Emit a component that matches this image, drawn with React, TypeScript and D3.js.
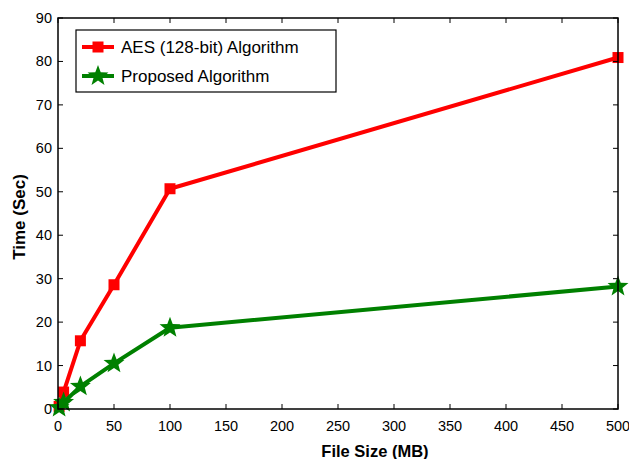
import React from "react";
import * as d3 from "d3";

const fileSizes = [1, 5, 20, 50, 100, 500];
const aesTimes = [0.6, 3.9, 15.7, 28.6, 50.7, 80.9];
const proposedTimes = [0.3, 1.5, 5.2, 10.5, 18.7, 28.2];
const xTicks = [0, 50, 100, 150, 200, 250, 300, 350, 400, 450, 500];
const yTicks = [0, 10, 20, 30, 40, 50, 60, 70, 80, 90];
const seriesNames = ["AES (128-bit) Algorithm", "Proposed Algorithm"];

const W = 629, H = 459;
const L = 58, R = 618, T = 18, B = 409;
const font = "Liberation Sans, Arial, Helvetica, sans-serif";

function starPath(cx: number, cy: number, r: number) {
  const inner = r * 0.42;
  const pts: string[] = [];
  for (let i = 0; i < 10; i++) {
    const rr = i % 2 === 0 ? r : inner;
    const a = -Math.PI / 2 + (i * Math.PI) / 5;
    pts.push(`${cx + rr * Math.cos(a)},${cy + rr * Math.sin(a)}`);
  }
  return "M" + pts.join("L") + "Z";
}

export default function App() {
  const x = d3.scaleLinear().domain([0, 500]).range([L, R]);
  const y = d3.scaleLinear().domain([0, 90]).range([B, T]);
  const line = d3
    .line<[number, number]>()
    .x((d) => x(d[0]))
    .y((d) => y(d[1]));
  const aes = fileSizes.map((f, i) => [f, aesTimes[i]] as [number, number]);
  const prop = fileSizes.map((f, i) => [f, proposedTimes[i]] as [number, number]);
  const red = "#ff0000";
  const green = "#008000";
  const tl = 5;
  return (
    <svg
      width={W}
      height={H}
      style={{ position: "absolute", left: 0, top: 0, background: "#fff" }}
      fontFamily={font}
    >
      <rect x={0} y={0} width={W} height={H} fill="#fff" />
      {/* data lines */}
      <path d={line(aes) || ""} fill="none" stroke={red} strokeWidth={4} strokeLinejoin="round" />
      {aes.map((d, i) => (
        <rect key={"a" + i} x={x(d[0]) - 5.5} y={y(d[1]) - 5.5} width={11} height={11} fill={red} />
      ))}
      <path d={line(prop) || ""} fill="none" stroke={green} strokeWidth={4} strokeLinejoin="round" />
      {prop.map((d, i) => (
        <path key={"p" + i} d={starPath(x(d[0]), y(d[1]), 11)} fill={green} />
      ))}
      {/* axes box */}
      <rect x={L} y={T} width={R - L} height={B - T} fill="none" stroke="#000" strokeWidth={1.5} />
      {xTicks.map((t) => (
        <g key={"x" + t}>
          <line x1={x(t)} x2={x(t)} y1={B} y2={B - tl} stroke="#000" />
          <line x1={x(t)} x2={x(t)} y1={T} y2={T + tl} stroke="#000" />
          <text x={x(t)} y={B + 22} textAnchor="middle" fontSize={14.5} fill="#000">
            {t}
          </text>
        </g>
      ))}
      {yTicks.map((t) => (
        <g key={"y" + t}>
          <line x1={L} x2={L + tl} y1={y(t)} y2={y(t)} stroke="#000" />
          <line x1={R} x2={R - tl} y1={y(t)} y2={y(t)} stroke="#000" />
          <text x={L - 6} y={y(t) + 5} textAnchor="end" fontSize={14.5} fill="#000">
            {t}
          </text>
        </g>
      ))}
      <text x={375} y={457} textAnchor="middle" fontSize={16.5} fontWeight="bold" fill="#000">
        File Size (MB)
      </text>
      <text
        transform={`translate(25,217) rotate(-90)`}
        textAnchor="middle"
        fontSize={17}
        fontWeight="bold"
        fill="#000"
      >
        Time (Sec)
      </text>
      {/* legend */}
      <rect x={76} y={30} width={260} height={62} fill="#fff" stroke="#000" strokeWidth={1.2} />
      <line x1={82} x2={114} y1={47} y2={47} stroke={red} strokeWidth={4} />
      <rect x={92.5} y={41.5} width={11} height={11} fill={red} />
      <text x={121} y={53} fontSize={17} fill="#000">
        {seriesNames[0]}
      </text>
      <line x1={82} x2={114} y1={76} y2={76} stroke={green} strokeWidth={4} />
      <path d={starPath(98, 76, 11)} fill={green} />
      <text x={121} y={82} fontSize={17} fill="#000">
        {seriesNames[1]}
      </text>
    </svg>
  );
}
